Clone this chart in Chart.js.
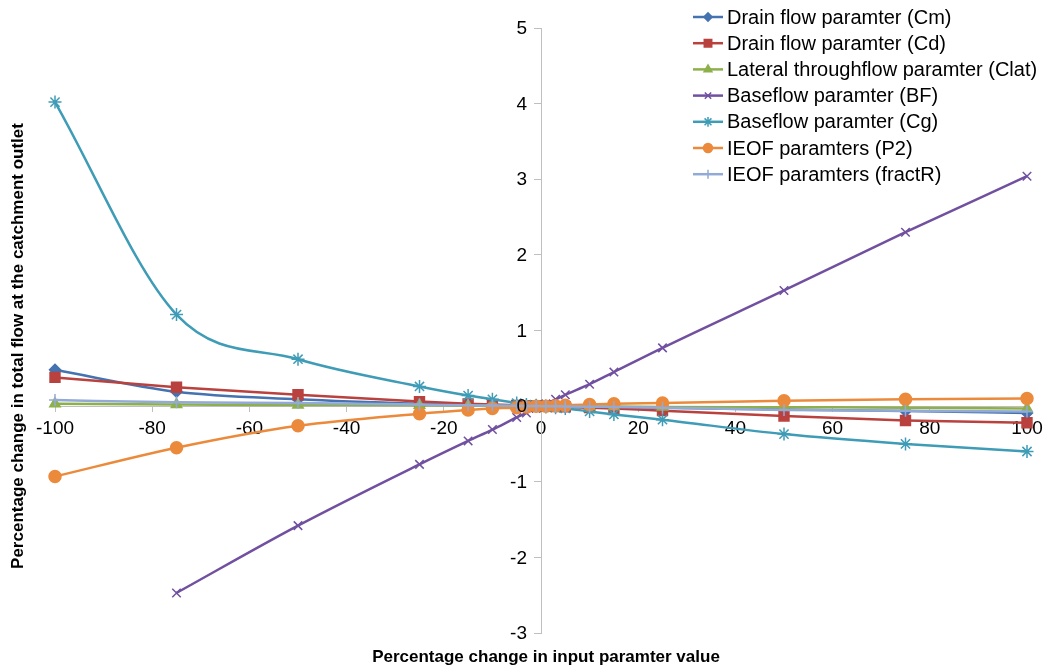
<!DOCTYPE html>
<html>
<head>
<meta charset="utf-8">
<script src="https://cdn.jsdelivr.net/npm/chart.js@4.4.1/dist/chart.umd.min.js"></script>
<style>
  body { margin: 0; background: #fff; }
  #wrap { width: 1049px; height: 666px; }
</style>
</head>
<body>
<div id="wrap"><canvas id="myChart" width="1049" height="666"></canvas></div>
<script>
// Percentage change in input parameter (x) for every series
let xVals = [-100, -75, -50, -25, -15, -10, -5, -3, -1, 1, 3, 5, 10, 15, 25, 50, 75, 100];

// Percentage change in total flow
let cmVals     = [0.48, 0.19, 0.09, 0.03, 0.015, 0.01, 0.005, 0.003, 0.001, -0.001, -0.003, -0.005, -0.01, -0.013, -0.02, -0.045, -0.065, -0.09];
let cdVals     = [0.38, 0.25, 0.15, 0.06, 0.03, 0.02, 0.01, 0.006, 0.002, -0.002, -0.006, -0.01, -0.02, -0.03, -0.06, -0.13, -0.19, -0.22];
let clatVals   = [0.03, 0.02, 0.015, 0.01, 0.005, 0.004, 0.002, 0.001, 0, 0, -0.001, -0.002, -0.004, -0.005, -0.01, -0.015, -0.02, -0.03];
let bfVals     = [null, -2.47, -1.58, -0.77, -0.46, -0.31, -0.15, -0.09, -0.03, 0.03, 0.09, 0.15, 0.29, 0.45, 0.77, 1.53, 2.3, 3.04];
let cgVals     = [4.02, 1.21, 0.62, 0.26, 0.14, 0.09, 0.04, 0.02, 0.01, -0.01, -0.02, -0.03, -0.07, -0.11, -0.18, -0.37, -0.5, -0.6];
let p2Vals     = [-0.93, -0.55, -0.26, -0.1, -0.05, -0.03, -0.02, -0.01, 0, 0, 0.005, 0.01, 0.02, 0.03, 0.04, 0.07, 0.09, 0.1];
let fractRVals = [0.08, 0.05, 0.04, 0.02, 0.01, 0.008, 0.004, 0.002, 0.001, -0.001, -0.002, -0.004, -0.008, -0.01, -0.02, -0.05, -0.06, -0.07];

let seriesNames = [
    'Drain flow paramter (Cm)',
    'Drain flow paramter (Cd)',
    'Lateral throughflow paramter (Clat)',
    'Baseflow paramter (BF)',
    'Baseflow paramter (Cg)',
    'IEOF paramters (P2)',
    'IEOF paramters (fractR)'
];
let seriesVals = [cmVals, cdVals, clatVals, bfVals, cgVals, p2Vals, fractRVals];
let seriesColors = ['#4572b0', '#b9413e', '#8db04b', '#7150a0', '#3f9cb6', '#ec8a3c', '#93aad6'];
let seriesPoints = ['rectRot', 'rect', 'triangle', 'crossRot', 'star', 'circle', 'cross'];
let seriesRadius = [5.5, 7, 6, 6, 6.5, 6, 6];

let xTitle = 'Percentage change in input paramter value';
let yTitle = 'Percentage change in total flow at the catchment outlet';

const FONT = "'Liberation Sans', Arial, sans-serif";

let datasets = seriesNames.map(function (name, i) {
    return {
        label: name,
        data: xVals.map(function (x, j) { return {x: x, y: seriesVals[i][j]}; }),
        borderColor: seriesColors[i],
        backgroundColor: seriesColors[i],
        pointBackgroundColor: seriesColors[i],
        pointBorderColor: seriesColors[i],
        pointStyle: seriesPoints[i],
        pointRadius: seriesRadius[i],
        pointBorderWidth: 1.5,
        borderWidth: 2.5,
        cubicInterpolationMode: 'monotone',
        spanGaps: false,
        clip: false,
        order: 7 - i   // later series on top, like the original
    };
});

// legend, y tick labels and axis titles drawn by hand
const extras = {
    id: 'extras',
    afterDraw(chart) {
        const ctx = chart.ctx;
        const xs = chart.scales.x, ys = chart.scales.y;

        // y tick labels left of the crossing axis
        ctx.save();
        ctx.fillStyle = '#000';
        ctx.font = '19px ' + FONT;
        ctx.textAlign = 'right';
        ctx.textBaseline = 'middle';
        let axisX = xs.getPixelForValue(0);
        ys.ticks.forEach(function (t) {
            ctx.fillText(String(t.value), axisX - 14, ys.getPixelForValue(t.value) + 1);
        });
        ctx.restore();

        ctx.save();
        ctx.fillStyle = '#000';
        ctx.font = 'bold 17px ' + FONT;
        ctx.textAlign = 'center';
        ctx.textBaseline = 'middle';
        ctx.fillText(xTitle, 546, 657);
        ctx.translate(18, 346);
        ctx.rotate(-Math.PI / 2);
        ctx.fillText(yTitle, 0, 0);
        ctx.restore();

        ctx.save();
        let x0 = 693, x1 = 723, y = 17;
        seriesNames.forEach(function (name, i) {
            ctx.strokeStyle = seriesColors[i];
            ctx.fillStyle = seriesColors[i];
            ctx.lineWidth = 2.5;
            ctx.beginPath();
            ctx.moveTo(x0, y);
            ctx.lineTo(x1, y);
            ctx.stroke();
            ctx.lineWidth = 1.5;
            Chart.helpers.drawPoint(ctx, {pointStyle: seriesPoints[i], radius: seriesRadius[i] * 0.75, rotation: 0, borderWidth: 1.5}, (x0 + x1) / 2, y);
            ctx.fillStyle = '#000';
            ctx.font = '20px ' + FONT;
            ctx.textAlign = 'left';
            ctx.textBaseline = 'middle';
            ctx.fillText(name, 727, y + 1);
            y += 26.2;
        });
        ctx.restore();
    }
};

let ctx = document.getElementById('myChart').getContext('2d');

let sensChart = new Chart(ctx, {
    type: 'line',
    data: { datasets: datasets },
    plugins: [extras],
    options: {
        responsive: false,
        animation: false,
        layout: {
            padding: { left: 55, right: 22, top: 28, bottom: 33 }
        },
        plugins: {
            legend: { display: false },
            tooltip: { enabled: false }
        },
        scales: {
            x: {
                type: 'linear',
                position: { y: 0 },
                min: -100,
                max: 100,
                ticks: {
                    stepSize: 20,
                    color: '#000',
                    padding: 6,
                    font: { family: FONT, size: 19 }
                },
                grid: { drawOnChartArea: false, drawTicks: true, tickLength: 5, color: '#bfbfbf' },
                border: { color: '#bfbfbf', width: 1 }
            },
            y: {
                type: 'linear',
                position: { x: 0 },
                min: -3,
                max: 5,
                ticks: {
                    stepSize: 1,
                    display: false
                },
                grid: { drawOnChartArea: false, drawTicks: true, tickLength: 7, color: '#bfbfbf' },
                border: { color: '#bfbfbf', width: 1 }
            }
        }
    }
});
</script>
</body>
</html>
